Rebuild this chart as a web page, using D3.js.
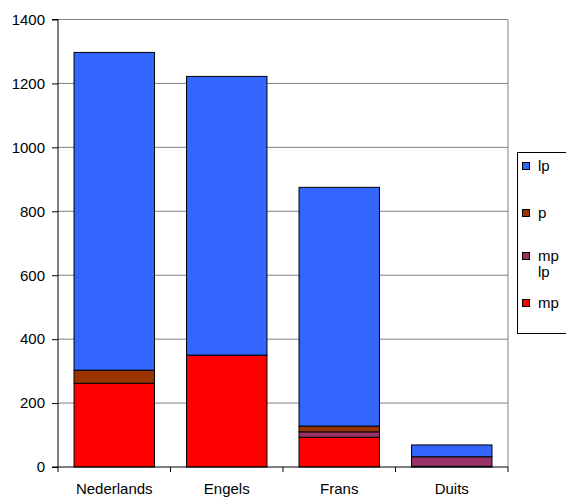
<!DOCTYPE html>
<html><head><meta charset="utf-8">
<script src="https://cdn.jsdelivr.net/npm/d3@7"></script>
<style>body{margin:0;background:#fff;} text{font-family:"Liberation Sans",Arial,sans-serif;}</style>
</head><body>
<svg id="chart" width="566" height="499"></svg>
<script>
const categories = ["Nederlands", "Engels", "Frans", "Duits"];
const seriesNames = ["mp", "mp lp", "p", "lp"];
const mp   = [262, 350, 93, 2];
const mplp = [0, 0, 17, 30];
const p    = [41, 0, 18, 0];
const lp   = [994, 872, 747, 37];
const colors = ["#FF0000", "#993366", "#993300", "#3366FF"];
const yTicks = [0, 200, 400, 600, 800, 1000, 1200, 1400];

const rows = categories.map((c, i) => ({cat: c, "mp": mp[i], "mp lp": mplp[i], "p": p[i], "lp": lp[i]}));
const stack = d3.stack().keys(seriesNames)(rows);

const svg = d3.select("#chart");
const L = 58, R = 508, T = 19.5, B = 467;
const FS = 15;
const x = d3.scaleBand().domain(categories).range([L, R]).paddingInner(0.285).paddingOuter(0.1425);
const y = d3.scaleLinear().domain([0, 1400]).range([B, T]);

// gridlines
svg.append("g").selectAll("line").data(yTicks.filter(t => t > 0)).join("line")
  .attr("x1", L).attr("x2", R).attr("y1", d => y(d)).attr("y2", d => y(d))
  .attr("stroke", "#808080").attr("stroke-width", 1);
// right border
svg.append("line").attr("x1", R).attr("x2", R).attr("y1", T).attr("y2", B)
  .attr("stroke", "#808080").attr("stroke-width", 1);

// bars
svg.append("g").selectAll("g").data(stack).join("g")
  .attr("fill", (d, i) => colors[i])
  .selectAll("rect").data(d => d.filter(s => s[1] - s[0] > 0)).join("rect")
  .attr("x", d => x(d.data.cat)).attr("width", x.bandwidth())
  .attr("y", d => y(d[1])).attr("height", d => y(d[0]) - y(d[1]))
  .attr("stroke", "#000").attr("stroke-width", 1);

// y axis
const yAxis = d3.axisLeft(y).tickValues(yTicks).tickSize(6).tickPadding(7).tickFormat(d3.format("d"));
const gy = svg.append("g").attr("transform", `translate(${L},0)`).call(yAxis);
gy.select(".domain").attr("stroke", "#000").attr("d", `M-6,${T}H0V${B}H-6`);
gy.selectAll("text").attr("font-size", FS).attr("font-family", "Liberation Sans, Arial, sans-serif").attr("fill", "#000");

// x axis
const gx = svg.append("g").attr("transform", `translate(0,${B})`);
gx.append("line").attr("x1", L).attr("x2", R).attr("stroke", "#000");
const bounds = categories.map(c => x(c) - x.step() * x.paddingInner() / 2).concat([R]);
bounds[0] = L;
gx.selectAll("line.tk").data(bounds).join("line").attr("class", "tk")
  .attr("x1", d => d).attr("x2", d => d).attr("y1", 0).attr("y2", 5).attr("stroke", "#000");
gx.selectAll("text").data(categories).join("text")
  .attr("x", d => x(d) + x.bandwidth() / 2).attr("y", 27)
  .attr("text-anchor", "middle").attr("font-size", FS).text(d => d);

// legend
const lg = svg.append("g");
lg.append("rect").attr("x", 517.5).attr("y", 152.5).attr("width", 60).attr("height", 181)
  .attr("fill", "#fff").attr("stroke", "#000");
const legendItems = [
  {name: ["lp"], color: colors[3], y: 162},
  {name: ["p"], color: colors[2], y: 209},
  {name: ["mp", "lp"], color: colors[1], y: 252},
  {name: ["mp"], color: colors[0], y: 299}
];
legendItems.forEach(it => {
  lg.append("rect").attr("x", 522.5).attr("y", it.y + 0.5).attr("width", 7).attr("height", 7)
    .attr("fill", it.color).attr("stroke", "#000");
  it.name.forEach((n, j) => {
    lg.append("text").attr("x", 538).attr("y", it.y + 8.5 + j * 16).attr("font-size", FS).text(n);
  });
});
</script>
</body></html>
